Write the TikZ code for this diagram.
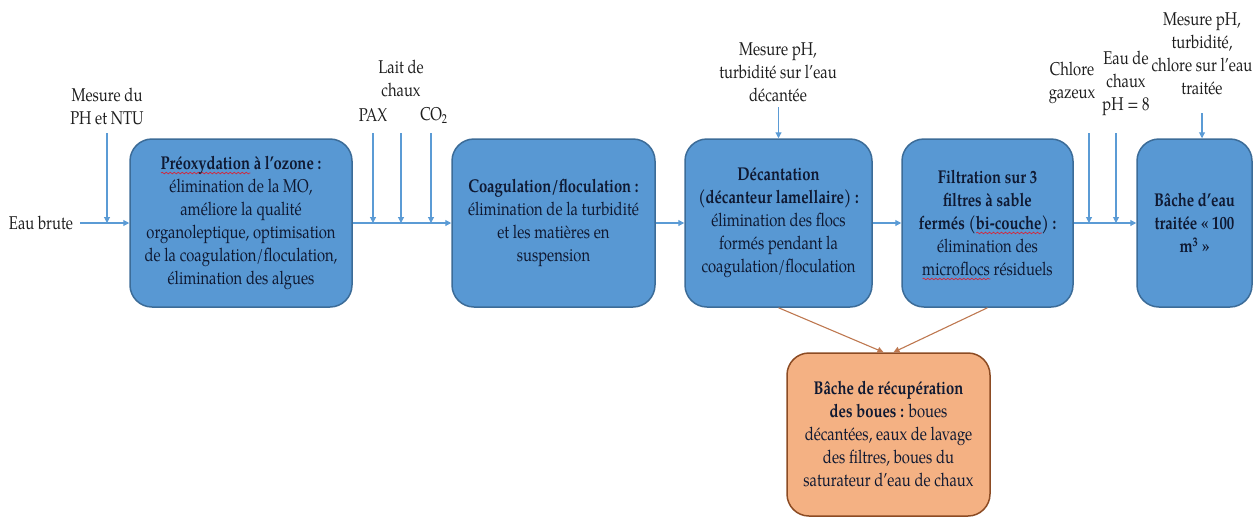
\documentclass[tikz,border=0pt]{standalone}
\usepackage{fontspec}
\setmainfont{TeX Gyre Pagella}[FakeStretch=0.8]
\usetikzlibrary{arrows.meta,decorations.pathmorphing}
\definecolor{bfill}{RGB}{88,152,211}
\definecolor{bborder}{RGB}{60,108,152}
\definecolor{bline}{RGB}{91,155,213}
\definecolor{ofill}{RGB}{244,177,131}
\definecolor{oborder}{RGB}{140,75,35}
\definecolor{oline}{RGB}{190,120,80}
\definecolor{boxtext}{RGB}{15,25,50}
\definecolor{labtext}{RGB}{30,30,30}
\definecolor{spellred}{RGB}{210,40,60}
\newlength\spellw
\newcommand\spellwave[1]{\settowidth\spellw{#1}\rlap{\raisebox{-3.5pt}[0pt][0pt]{\tikz[baseline=0pt]{\draw[draw=spellred,line width=0.7pt,sharp corners,decorate,decoration={snake,amplitude=0.8pt,segment length=4pt}] (0pt,0pt) -- (\spellw,0pt);}}}#1}
\tikzset{
  txt/.style={font={\fontsize{18.5}{23}\selectfont}},
  procbox/.style={txt, draw=bborder, fill=bfill, line width=1.5pt, rounded corners=22pt,
    align=center, text=boxtext, inner sep=2pt, minimum height=168pt},
  mudbox/.style={txt, draw=oborder, fill=ofill, line width=1.5pt, rounded corners=22pt,
    align=center, text=boxtext, inner sep=2pt, minimum height=163pt, minimum width=203pt},
  lab/.style={txt, align=center, text=labtext, inner sep=0pt},
  arr/.style={draw=bline, line width=1.1pt, -{Triangle[width=6pt,length=6pt]}},
  oarr/.style={draw=oline, line width=1.1pt, -{Triangle[width=6pt,length=6pt]}}
}
\begin{document}
\begin{tikzpicture}[x=1pt,y=-1pt]
\useasboundingbox (0,0) rectangle (1253,517);
\clip (0,0) rectangle (1253,517);
% process boxes
\node[procbox, minimum width=222pt] (b1) at (241,223)
  {\textbf{\spellwave{Préoxydation} à l’ozone :}\\élimination de la MO,\\améliore la qualité\\organoleptique, optimisation\\de la coagulation/floculation,\\élimination des algues};
\node[procbox, minimum width=203pt] (b2) at (553.5,223)
  {\textbf{Coagulation/floculation :}\\élimination de la turbidité\\et les matières en\\suspension};
\node[procbox, minimum width=187pt] (b3) at (778.5,223)
  {\textbf{Décantation}\\\textbf{(décanteur lamellaire) :}\\élimination des flocs\\formés pendant la\\coagulation/floculation};
\node[procbox, minimum width=171pt] (b4) at (987.5,223)
  {\textbf{Filtration sur 3}\\\textbf{filtres à sable}\\\textbf{fermés (\spellwave{bi-couche}) :}\\élimination des\\\spellwave{microflocs} résiduels};
\node[procbox, minimum width=115pt] (b5) at (1194.5,223)
  {\textbf{Bâche d’eau}\\\textbf{traitée « 100}\\\textbf{m\textsuperscript{3} »}};
\node[mudbox] (bo) at (888.5,434.5)
  {\textbf{Bâche de récupération}\\\textbf{des boues :} boues\\décantées, eaux de lavage\\des filtres, boues du\\saturateur d’eau de chaux};
% labels
\node[lab] (eau) at (41,223) {Eau brute};
\node[lab] (m1) at (107,106) {Mesure du\\PH et NTU};
\node[lab] (pax) at (373,115) {PAX};
\node[lab] (lait) at (401,78) {Lait de\\chaux};
\node[lab] (co2) at (434,115) {CO\textsubscript{2}};
\node[lab] (m3) at (778,72) {Mesure pH,\\turbidité sur l’eau\\décantée};
\node[lab] (cl) at (1072,83) {Chlore\\gazeux};
\node[lab] (ch) at (1126,83) {Eau de\\chaux\\pH = 8};
\node[lab] (m5) at (1202,54) {Mesure pH,\\turbidité,\\chlore sur l’eau\\traitée};
% coordinates
\coordinate (s0) at (80,223);
\coordinate (t1) at (107,133);
\coordinate (j1) at (107,223);
\coordinate (tpax) at (373,133);
\coordinate (jpax) at (373,223);
\coordinate (tlait) at (401,133);
\coordinate (jlait) at (401,223);
\coordinate (tco2) at (431,133);
\coordinate (jco2) at (431,223);
\coordinate (t3) at (778.5,107);
\coordinate (tcl) at (1089,133);
\coordinate (jcl) at (1089,223);
\coordinate (tch) at (1116,133);
\coordinate (jch) at (1116,223);
\coordinate (t5) at (1202,113);
% flow connectors
\draw[arr] (s0) -- (b1.west);
\draw[arr] (t1) -- (j1);
\draw[arr] (b1.east) -- (b2.west);
\draw[arr] (tpax) -- (jpax);
\draw[arr] (tlait) -- (jlait);
\draw[arr] (tco2) -- (jco2);
\draw[arr] (b2.east) -- (b3.west);
\draw[arr] (t3) -- (b3.north);
\draw[arr] (b3.east) -- (b4.west);
\draw[arr] (b4.east) -- (b5.west);
\draw[arr] (tcl) -- (jcl);
\draw[arr] (tch) -- (jch);
\draw[arr] (t5) -- (t5 |- b5.north);
% sludge connectors
\draw[oarr] (b3.south) -- ([xshift=-5pt]bo.north);
\draw[oarr] (b4.south) -- ([xshift=5pt]bo.north);
\end{tikzpicture}
\end{document}
